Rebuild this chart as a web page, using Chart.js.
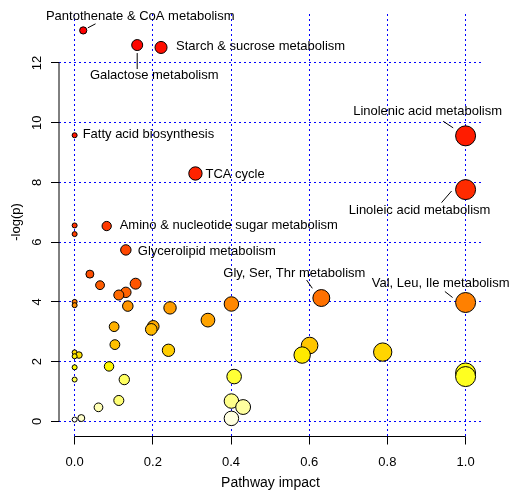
<!DOCTYPE html>
<html>
<head>
<meta charset="utf-8">
<script src="https://cdn.jsdelivr.net/npm/chart.js@4/dist/chart.umd.min.js"></script>
<style>
  html, body { margin: 0; padding: 0; background: #fff; }
  canvas { display: block; }
</style>
</head>
<body>
<canvas id="pathwayChart" width="511" height="491"></canvas>
<script>
// pathway impact (x) and -log(p) (y), sorted by -log(p)
let impactValues = [
    0.022, 0.160, 0.221, 0.000, 1.000, 0.309, 1.000, 0.000, 0.082, 0.000,
    0.131, 0.039, 0.156, 0.065, 0.131, 0.113, 0.631, 0.000, 1.000, 0.401,
    0.000, 0.136, 0.244, 0.341, 0.201, 0.101, 0.196, 0.103, 0.601, 0.240,
    0.788, 0.000, 0.011, 0.582, 0.000, 0.088, 0.000, 1.000, 1.000, 0.408,
    0.000, 0.127, 0.113, 0.401, 0.431, 0.061, 0.017, 0.401, 0.000
];
let logPValues = [
    13.09, 12.60, 12.52, 9.58, 9.56, 8.30, 7.76, 6.56, 6.54, 6.27,
    5.74, 4.93, 4.61, 4.56, 4.32, 4.23, 4.13, 4.00, 3.98, 3.93,
    3.89, 3.86, 3.80, 3.39, 3.18, 3.17, 3.08, 2.57, 2.54, 2.38,
    2.32, 2.31, 2.22, 2.22, 2.18, 1.84, 1.81, 1.62, 1.50, 1.50,
    1.40, 1.40, 0.70, 0.68, 0.48, 0.47, 0.11, 0.10, 0.06
];
// names of the labelled pathways (index into the arrays above)
let labelIndex = [0, 1, 2, 3, 4, 5, 6, 8, 10, 16, 18];
let labelNames = [
    "Pantothenate & CoA metabolism",
    "Galactose metabolism",
    "Starch & sucrose metabolism",
    "Fatty acid biosynthesis",
    "Linolenic acid metabolism",
    "TCA cycle",
    "Linoleic acid metabolism",
    "Amino & nucleotide sugar metabolism",
    "Glycerolipid metabolism",
    "Gly, Ser, Thr metabolism",
    "Val, Leu, Ile metabolism"
];
let xTicks = [0, 0.2, 0.4, 0.6, 0.8, 1.0];
let yTicks = [0, 2, 4, 6, 8, 10, 12];

// where each label sits relative to its point (pixels), plus its leader line
let labelPlacement = [
    { dx: 57, dy: -14, align: "center", line: [4.6, -2.6, 12.3, -6.6] },
    { dx: 17, dy: 30, align: "center", line: [0, 8, 0, 24] },
    { dx: 15, dy: -1, align: "left" },
    { dx: 8, dy: -1, align: "left" },
    { dx: -38, dy: -24, align: "center", line: [-22.4, -14.6, -12.4, -8] },
    { dx: 10, dy: 0.5, align: "left" },
    { dx: -46, dy: 21, align: "center", line: [-24, 13, -14, 1.4] },
    { dx: 13, dy: -1, align: "left" },
    { dx: 12, dy: 1, align: "left" },
    { dx: -27, dy: -25, align: "center", line: [-14.7, -18, -9, -9.7] },
    { dx: -25, dy: -19, align: "center", line: [-20.7, -11, -13, -5] }
];

const FONT = "13px 'Liberation Sans', Arial, sans-serif";
const TITLE_FONT = "14px 'Liberation Sans', Arial, sans-serif";

// R's heat.colors(n)
function heatColors(n) {
    let j = Math.floor(n / 4), i = n - j, out = [];
    for (let k = 0; k < i; k++) {
        let g = i > 1 ? Math.round(255 * k / (i - 1)) : 0;
        out.push("rgb(255," + g + ",0)");
    }
    for (let k = 0; k < j; k++) {
        let from = 1 - 1 / (2 * j), to = 1 / (2 * j);
        let s = j > 1 ? from + (to - from) * k / (j - 1) : from;
        out.push("rgb(255,255," + Math.round(255 * (1 - s)) + ")");
    }
    return out;
}

// colour by rank of p (values are already sorted), size by impact
let colours = heatColors(logPValues.length);
let points = impactValues.map(function (x, k) {
    return { x: x, y: logPValues[k], r: 2.5 + 7.5 * Math.sqrt(x) };
});

const rAxes = {
    id: "rAxes",
    beforeDatasetsDraw(chart) {
        const ctx = chart.ctx, area = chart.chartArea;
        const xs = chart.scales.x, ys = chart.scales.y;
        ctx.save();
        ctx.strokeStyle = "#0000ff";
        ctx.lineWidth = 1;
        ctx.setLineDash([2, 3]);
        xTicks.forEach(function (t) {
            let px = Math.floor(xs.getPixelForValue(t)) + 0.5;
            ctx.beginPath();
            ctx.moveTo(px, area.top);
            ctx.lineTo(px, area.bottom);
            ctx.stroke();
        });
        yTicks.forEach(function (t) {
            let py = Math.floor(ys.getPixelForValue(t)) + 0.5;
            ctx.beginPath();
            ctx.moveTo(area.left, py);
            ctx.lineTo(area.right, py);
            ctx.stroke();
        });
        ctx.restore();
    },
    afterDatasetsDraw(chart) {
        const ctx = chart.ctx, area = chart.chartArea;
        const xs = chart.scales.x, ys = chart.scales.y;
        ctx.save();
        ctx.strokeStyle = "#000";
        ctx.fillStyle = "#000";
        ctx.lineWidth = 1;
        ctx.font = FONT;

        // y axis (R style, offset from the data)
        let ax = area.left;
        let y0 = ys.getPixelForValue(yTicks[0]), y1 = ys.getPixelForValue(yTicks[yTicks.length - 1]);
        ctx.beginPath();
        ctx.moveTo(ax, Math.floor(y0) + 0.5);
        ctx.lineTo(ax, Math.floor(y1) + 0.5);
        yTicks.forEach(function (t) {
            let py = Math.floor(ys.getPixelForValue(t)) + 0.5;
            ctx.moveTo(ax, py);
            ctx.lineTo(ax - 8, py);
        });
        ctx.stroke();
        ctx.textAlign = "center";
        ctx.textBaseline = "middle";
        yTicks.forEach(function (t) {
            let py = ys.getPixelForValue(t);
            ctx.save();
            ctx.translate(37, py);
            ctx.rotate(-Math.PI / 2);
            ctx.fillText(String(t), 0, 0);
            ctx.restore();
        });
        ctx.save();
        ctx.translate(16, 222);
        ctx.rotate(-Math.PI / 2);
        ctx.fillText("-log(p)", 0, 0);
        ctx.restore();

        // x axis
        let ay = area.bottom + 0.5;
        let x0 = Math.floor(xs.getPixelForValue(xTicks[0])) + 0.5;
        let x1 = Math.floor(xs.getPixelForValue(xTicks[xTicks.length - 1])) + 0.5;
        ctx.beginPath();
        ctx.moveTo(x0, ay);
        ctx.lineTo(x1, ay);
        xTicks.forEach(function (t) {
            let px = Math.floor(xs.getPixelForValue(t)) + 0.5;
            ctx.moveTo(px, ay);
            ctx.lineTo(px, ay + 8);
        });
        ctx.stroke();
        xTicks.forEach(function (t) {
            ctx.fillText(t.toFixed(1), xs.getPixelForValue(t), 462);
        });
        ctx.font = TITLE_FONT;
        ctx.fillText("Pathway impact", (area.left + area.right) / 2, 483);
        ctx.font = FONT;

        // pathway labels with leader lines
        labelIndex.forEach(function (idx, k) {
            let place = labelPlacement[k];
            let px = xs.getPixelForValue(impactValues[idx]);
            let py = ys.getPixelForValue(logPValues[idx]);
            ctx.textAlign = place.align;
            ctx.fillText(labelNames[k], px + place.dx, py + place.dy);
            if (place.line) {
                ctx.beginPath();
                ctx.moveTo(px + place.line[0], py + place.line[1]);
                ctx.lineTo(px + place.line[2], py + place.line[3]);
                ctx.stroke();
            }
        });
        ctx.restore();
    }
};

new Chart(document.getElementById("pathwayChart"), {
    type: "bubble",
    data: {
        datasets: [{
            data: points,
            backgroundColor: colours,
            borderColor: "#000",
            borderWidth: 1
        }]
    },
    options: {
        responsive: false,
        animation: false,
        devicePixelRatio: 1,
        layout: { autoPadding: false, padding: { left: 59, right: 29, top: 14, bottom: 55 } },
        plugins: { legend: { display: false }, tooltip: { enabled: false } },
        scales: {
            x: { type: "linear", min: -0.04, max: 1.042, display: false },
            y: { type: "linear", min: -0.49, max: 13.64, display: false }
        }
    },
    plugins: [rAxes]
});
</script>
</body>
</html>
